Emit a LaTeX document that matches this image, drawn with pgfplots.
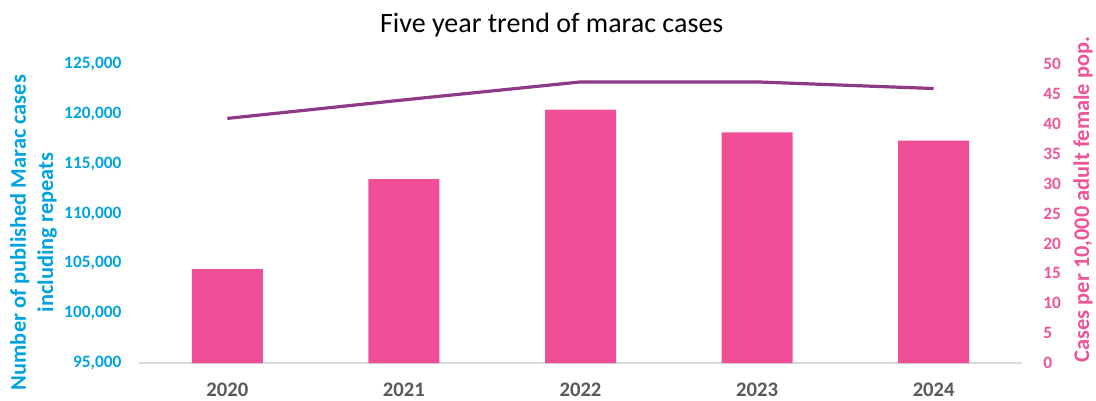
\documentclass[border=0pt]{standalone}
\usepackage{pgfplots}
\pgfplotsset{compat=1.18}
\usepackage{fontspec}
\setmainfont{Carlito}
\definecolor{barpink}{HTML}{F04F98}
\definecolor{txtpink}{HTML}{EF5499}
\definecolor{lblue}{HTML}{00A3E0}
\definecolor{lpurple}{HTML}{8C3A85}
\definecolor{ygray}{HTML}{595959}
\definecolor{agray}{HTML}{D9D9D9}
\begin{document}
\begin{tikzpicture}
\useasboundingbox (0,0) rectangle (822pt,300pt);
\begin{axis}[
  at={(104.25pt,27.75pt)}, anchor=south west,
  scale only axis, width=662.25pt, height=224.25pt,
  xmin=-0.5, xmax=4.5,
  ymin=95000, ymax=125000,
  ytick={95000,100000,105000,110000,115000,120000,125000},
  scaled y ticks=false,
  xtick={0,1,2,3,4},
  xticklabels={2020,2021,2022,2023,2024},
  axis x line*=bottom, axis y line*=left,
  x axis line style={-, draw=agray, line width=1.1pt},
  y axis line style={draw=none},
  major tick length=0pt,
  /pgf/number format/assume math mode=true,
  /pgf/number format/.cd, 1000 sep={,}, fixed,
  /pgfplots/.cd,
  yticklabel style={font=\bfseries\fontsize{13}{15}\selectfont, text=lblue, anchor=east, inner sep=0pt, xshift=-13pt},
  xticklabel style={font=\bfseries\fontsize{15.5}{18}\selectfont, text=ygray, anchor=base, inner sep=0pt, yshift=-24.8pt},
  clip=true,
]
\addplot[ybar, bar width=53.25pt, bar shift=0pt, fill=barpink, draw=none]
  coordinates {(0,104430) (1,113460) (2,120410) (3,118140) (4,117300)};
\end{axis}
\begin{axis}[
  at={(104.25pt,27.75pt)}, anchor=south west,
  scale only axis, width=662.25pt, height=224.25pt,
  xmin=-0.5, xmax=4.5,
  ymin=0, ymax=50,
  ytick={0,5,10,15,20,25,30,35,40,45,50},
  axis x line=none, axis y line*=right,
  y axis line style={draw=none},
  major tick length=0pt,
  /pgf/number format/assume math mode=true,
  yticklabel style={font=\bfseries\fontsize{13}{15}\selectfont, text=txtpink, anchor=west, inner sep=0pt, xshift=15.75pt},
]
\addplot[lpurple, line width=2.4pt, mark=none, line join=round]
  coordinates {(0,40.9) (1,44.0) (2,47.0) (3,47.0) (4,45.9)};
\end{axis}
\node[anchor=base, font=\fontsize{21}{25}\selectfont] at (413.8pt,275.8pt) {Five year trend of marac cases};
\node[rotate=90, align=center, text=lblue, font=\bfseries\fontsize{16.8}{20.5}\selectfont] at (25.1pt,125.6pt) {Number of published Marac cases\\including repeats};
\node[rotate=90, text=txtpink, font=\bfseries\fontsize{16.8}{20.5}\selectfont] at (812.25pt,150.4pt) {Cases per 10,000 adult female pop.};
\end{tikzpicture}
\end{document}
